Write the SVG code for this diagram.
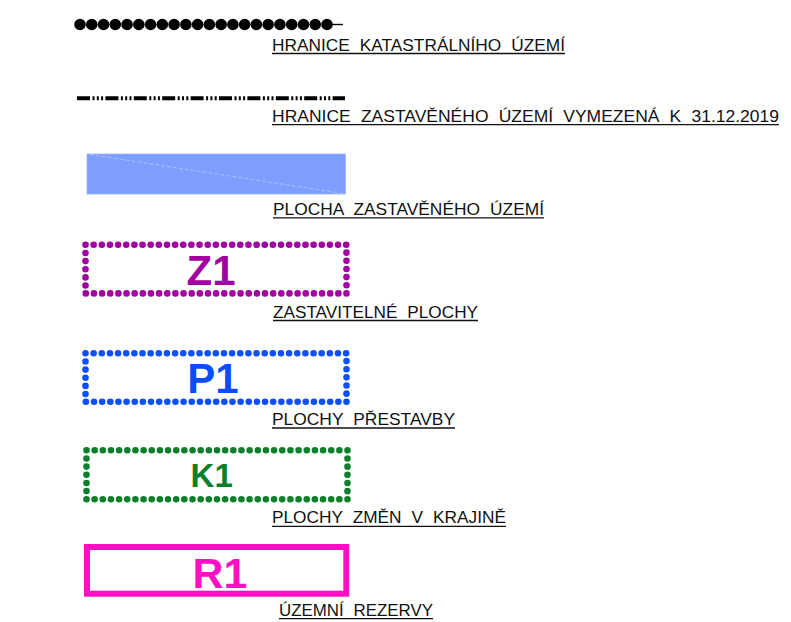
<svg xmlns="http://www.w3.org/2000/svg" width="791" height="622" viewBox="0 0 791 622">
<style>
.lbl{font-family:"Liberation Sans","DejaVu Sans",sans-serif;font-size:16.5px;word-spacing:5px;fill:#111;}
.ul{stroke:#111;stroke-width:1.3;}
.code{font-family:"Liberation Sans",Arial,sans-serif;font-weight:bold;text-anchor:middle;}
.dots{fill:none;stroke-width:6.6;stroke-linecap:round;stroke-dasharray:0 1;}
</style>
<rect width="791" height="622" fill="#fff"/>
<g id="hranice-katastralniho-uzemi">
<line x1="80" y1="24.5" x2="327" y2="24.5" pathLength="21" stroke="#000" stroke-width="11.6" stroke-linecap="round" stroke-dasharray="0 1"/>
<line x1="327" y1="24.5" x2="343" y2="24.5" stroke="#000" stroke-width="1.4"/>
<text class="lbl" x="272" y="50.8" textLength="293" lengthAdjust="spacingAndGlyphs">HRANICE KATASTRÁLNÍHO ÚZEMÍ</text>
<line class="ul" x1="272" y1="53.5" x2="565" y2="53.5"/>
</g>
<g id="hranice-zastaveneho-uzemi">
<line x1="77" y1="98.3" x2="345" y2="98.3" stroke="#000" stroke-width="4" stroke-dasharray="13 2.5 2 2.3 2 2.3 2 2.3"/>
<text class="lbl" x="272" y="121.8" textLength="507" lengthAdjust="spacingAndGlyphs">HRANICE ZASTAVĚNÉHO ÚZEMÍ VYMEZENÁ K 31.12.2019</text>
<line class="ul" x1="272" y1="124.6" x2="779" y2="124.6"/>
</g>
<g id="plocha-zastaveneho-uzemi">
<rect x="87" y="154" width="258.5" height="40" fill="#7e9eff" stroke="#9db5ff" stroke-width="0.8"/>
<line x1="90" y1="154.5" x2="343" y2="193.5" stroke="#b4c8ff" stroke-width="0.8" stroke-dasharray="4 2"/>
<text class="lbl" x="273" y="215.2" textLength="271" lengthAdjust="spacingAndGlyphs">PLOCHA ZASTAVĚNÉHO ÚZEMÍ</text>
<line class="ul" x1="273" y1="217.8" x2="544" y2="217.8"/>
</g>
<g id="zastavitelne-plochy">
<rect class="dots" x="85.5" y="244.8" width="261" height="48.6" pathLength="76" stroke="#a300a3"/>
<text class="code" x="211" y="285" font-size="42" fill="#a300a3">Z1</text>
<text class="lbl" x="273" y="317.8" textLength="205" lengthAdjust="spacingAndGlyphs">ZASTAVITELNÉ PLOCHY</text>
<line class="ul" x1="273" y1="320.5" x2="478" y2="320.5"/>
</g>
<g id="plochy-prestavby">
<rect class="dots" x="85.5" y="353.3" width="261" height="48.5" pathLength="76" stroke="#0a50ff"/>
<text class="code" x="213" y="392.7" font-size="42" fill="#0a4cff">P1</text>
<text class="lbl" x="272" y="425.2" textLength="183" lengthAdjust="spacingAndGlyphs">PLOCHY PŘESTAVBY</text>
<line class="ul" x1="272" y1="428" x2="455" y2="428"/>
</g>
<g id="plochy-zmen-v-krajine">
<rect class="dots" x="86.5" y="450.3" width="261" height="49" pathLength="76" stroke="#0b7f2b"/>
<text class="code" x="211.7" y="486.7" font-size="33" fill="#0b7f2b">K1</text>
<text class="lbl" x="272" y="523.4" textLength="234" lengthAdjust="spacingAndGlyphs">PLOCHY ZMĚN V KRAJINĚ</text>
<line class="ul" x1="272" y1="526.3" x2="506" y2="526.3"/>
</g>
<g id="uzemni-rezervy">
<rect x="87" y="547" width="259.3" height="46.7" fill="none" stroke="#ff0fc3" stroke-width="6"/>
<text class="code" x="220" y="588.3" font-size="43" fill="#ff0fc3">R1</text>
<text class="lbl" x="279" y="616" textLength="154" lengthAdjust="spacingAndGlyphs">ÚZEMNÍ REZERVY</text>
<line class="ul" x1="279" y1="618.6" x2="433" y2="618.6"/>
</g>
</svg>
